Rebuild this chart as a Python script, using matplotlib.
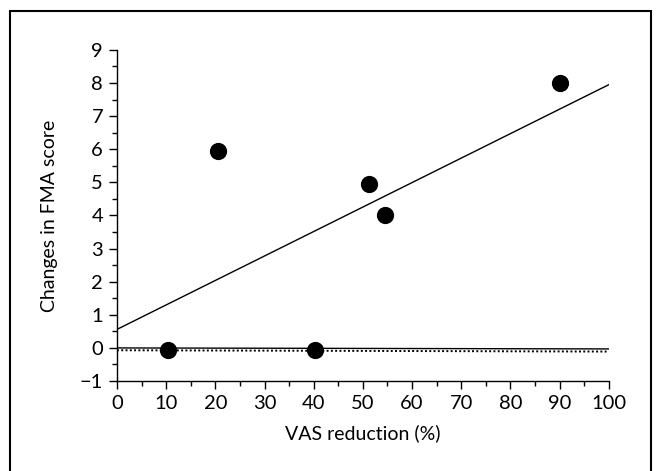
import matplotlib
matplotlib.use("Agg")
import matplotlib.pyplot as plt
from matplotlib.patches import Rectangle
from matplotlib.ticker import MultipleLocator

plt.rcParams['font.family'] = ['Lato', 'DejaVu Sans']

# data
vas = [10.3, 20.5, 40.2, 51.3, 54.5, 90.0]
fma = [-0.05, 5.95, -0.05, 4.95, 4.0, 8.0]

fit_x = [0, 100]
fit_y = [0.56, 7.95]
zero_solid = [0.0, -0.03]
zero_dot = [-0.07, -0.11]

fig = plt.figure(figsize=(6.61, 4.71), dpi=100)
ax = fig.add_axes([0.177, 0.191, 0.744, 0.703])

ax.plot(fit_x, fit_y, color='black', lw=1.0)
ax.plot(fit_x, zero_solid, color='black', lw=1.0)
ax.plot(fit_x, zero_dot, color='black', lw=1.4, ls=(0, (1, 1.2)))
ax.scatter(vas, fma, s=130, color='black', zorder=3, clip_on=False)

ax.set_xlim(0, 100)
ax.set_ylim(-1, 9)
ax.xaxis.set_major_locator(MultipleLocator(10))
ax.xaxis.set_minor_locator(MultipleLocator(5))
ax.yaxis.set_minor_locator(MultipleLocator(0.5))
ax.set_yticks(range(-1, 10))
ax.set_yticklabels(['\u22121'] + [str(i) for i in range(0, 10)])

for s in ['top', 'right']:
    ax.spines[s].set_visible(False)
for s in ['left', 'bottom']:
    ax.spines[s].set_linewidth(1.0)

ax.tick_params(which='major', direction='out', length=6, width=1.0, labelsize=14.5, pad=4)
ax.tick_params(which='minor', direction='out', length=3.5, width=1.0)

ax.set_xlabel('VAS reduction (%)', fontsize=14, labelpad=9)
ax.set_ylabel('Changes in FMA score', fontsize=14, labelpad=16)

# frame around the whole figure
frame = Rectangle((10 / 661, -0.05), 641 / 661, 1.05 - 11 / 471, transform=fig.transFigure,
                  fill=False, lw=1.5, edgecolor='black')
fig.patches.append(frame)

fig.savefig('out.png', dpi=100)
